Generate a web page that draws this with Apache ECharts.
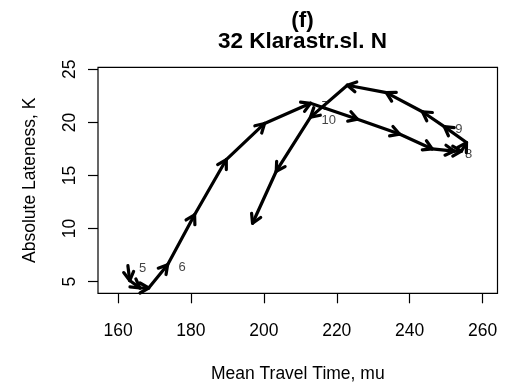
<!DOCTYPE html>
<html>
<head>
<meta charset="utf-8">
<title>32 Klarastr.sl. N</title>
<script src="https://cdn.jsdelivr.net/npm/echarts@6/dist/echarts.min.js"></script>
<style>
  html, body { margin: 0; padding: 0; background: #fff; }
  #chart { width: 514px; height: 383px; }
</style>
</head>
<body>
<div id="chart"></div>
<script>
// Trajectory of mean travel time vs. absolute lateness, one point per quarter hour
const travelTime = [162.7, 163.2, 166.0, 168.4, 173.6, 181.0, 189.7, 200.2, 212.8,
                    225.7, 237.2, 246.2, 252.2, 254.2, 255.6, 249.5, 243.5, 233.6,
                    222.9, 212.8, 203.4, 196.9];
const lateness   = [6.5, 5.1, 4.4, 4.4, 6.6, 11.3, 16.5, 19.9, 21.8,
                    20.3, 18.9, 17.5, 17.3, 17.3, 18.1, 19.6, 21.0, 22.8,
                    23.5, 20.5, 15.4, 10.5];
// Hour markers written next to the matching points
const hourLabels = ['5', '', '', '', '6', '', '', '', '7',
                    '', '', '', '8', '', '', '9', '', '',
                    '', '10', '', ''];

const xTicks = [160, 180, 200, 220, 240, 260];
const yTicks = [5, 10, 15, 20, 25];

const FONT = '"Liberation Sans", Arial, Helvetica, sans-serif';

// consecutive points become arrow segments
const segments = [];
for (let i = 0; i < travelTime.length - 1; i++) {
  segments.push([travelTime[i], lateness[i], travelTime[i + 1], lateness[i + 1]]);
}
const labelPoints = travelTime.map((x, i) => [x, lateness[i], hourLabels[i]])
                              .filter(p => p[2] !== '');

function renderArrow(params, api) {
  const p0 = api.coord([api.value(0), api.value(1)]);
  const p1 = api.coord([api.value(2), api.value(3)]);
  const ang = Math.atan2(p1[1] - p0[1], p1[0] - p0[0]);
  const len = 10, spread = Math.PI / 6;
  const h1 = [p1[0] - len * Math.cos(ang - spread), p1[1] - len * Math.sin(ang - spread)];
  const h2 = [p1[0] - len * Math.cos(ang + spread), p1[1] - len * Math.sin(ang + spread)];
  const style = { stroke: '#000', lineWidth: 3.2, fill: null, lineCap: 'round', lineJoin: 'round' };
  return {
    type: 'group',
    children: [
      { type: 'line', shape: { x1: p0[0], y1: p0[1], x2: p1[0], y2: p1[1] }, style: style },
      { type: 'polyline', shape: { points: [h1, p1, h2] }, style: style }
    ]
  };
}

const chart = echarts.init(document.getElementById('chart'), null, { renderer: 'canvas' });

chart.setOption({
  animation: false,
  backgroundColor: '#fff',
  title: [
    {
      text: '(f)', left: 297.5, top: 4, textAlign: 'center',
      textStyle: { fontFamily: FONT, fontSize: 22.5, fontWeight: 'bold', color: '#000' }
    },
    {
      text: '32 Klarastr.sl. N', left: 297.5, top: 25, textAlign: 'center',
      textStyle: { fontFamily: FONT, fontSize: 22.5, fontWeight: 'bold', color: '#000' }
    }
  ],
  grid: {
    left: 98, right: 16.5, top: 67.3, bottom: 89.7,
    outerBoundsMode: 'none',
    show: true, borderColor: '#000', borderWidth: 1.2, backgroundColor: 'transparent'
  },
  xAxis: {
    type: 'value', min: 154.5, max: 264.1,
    name: 'Mean Travel Time, mu', nameLocation: 'middle', nameGap: 72,
    nameTextStyle: { fontFamily: FONT, fontSize: 17.5, color: '#000' },
    axisLine: { show: false },
    axisTick: { show: true, inside: false, length: 10, customValues: xTicks,
                lineStyle: { color: '#000', width: 1.2 } },
    axisLabel: { customValues: xTicks, margin: 29, fontFamily: FONT, fontSize: 17.5, color: '#000' },
    splitLine: { show: false }
  },
  yAxis: {
    type: 'value', min: 3.9, max: 25.19,
    name: 'Absolute Lateness, K', nameLocation: 'middle', nameGap: 59,
    nameTextStyle: { fontFamily: FONT, fontSize: 17.5, color: '#000' },
    axisLine: { show: false },
    axisTick: { show: true, inside: false, length: 10, customValues: yTicks,
                lineStyle: { color: '#000', width: 1.2 } },
    axisLabel: { customValues: yTicks, rotate: 90, margin: 19, fontFamily: FONT, fontSize: 17.5, color: '#000' },
    splitLine: { show: false }
  },
  series: [
    {
      type: 'custom',
      renderItem: renderArrow,
      encode: { x: [0, 2], y: [1, 3] },
      data: segments,
      silent: true
    },
    {
      type: 'scatter',
      symbolSize: 0,
      data: labelPoints,
      silent: true,
      label: {
        show: true, position: 'right', distance: 11, offset: [0, 3],
        formatter: p => p.data[2],
        fontFamily: FONT, fontSize: 13, color: '#111'
      }
    }
  ]
});
</script>
</body>
</html>
